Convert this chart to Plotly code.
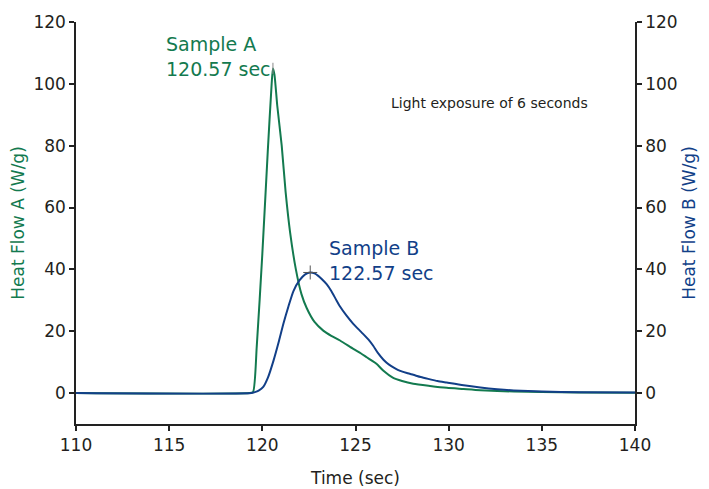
import plotly.graph_objects as go

# Sample A (green, left axis)
time_a = [110, 119.3, 119.5, 119.7, 120.0, 120.29, 120.5, 120.57, 120.65, 120.8, 121.04,
          121.25, 121.49, 121.8, 122.1, 122.38, 122.8, 123.27, 123.7, 124.17, 124.88,
          125.3, 125.6, 125.9, 126.14, 126.5, 127.0, 127.5, 128.1, 129.0, 129.9, 130.8,
          131.7, 133.5, 135.0, 137.0, 140.0]
flow_a = [0, 0, 0.3, 15, 45, 78, 100, 105, 103, 93, 80,
          65, 52, 40, 32, 27.5, 23, 20.2, 18.5, 17, 14.3,
          12.8, 11.6, 10.4, 9.4, 7.2, 5.0, 3.9, 3.0, 2.3, 1.7, 1.3,
          0.9, 0.5, 0.35, 0.2, 0.1]

# Sample B (blue, right axis)
time_b = [110, 119.4, 119.6, 119.8, 120.05, 120.3, 120.6, 120.9, 121.13, 121.4, 121.67,
          122.0, 122.3, 122.57, 122.8, 123.0, 123.2, 123.45, 123.7, 123.95, 124.17,
          124.5, 124.88, 125.3, 125.7, 125.95, 126.2, 126.5, 126.8, 127.1, 127.4, 127.8,
          128.1, 128.5, 128.9, 129.4, 129.9, 130.8, 131.7, 132.6, 133.5, 135.0, 137.0, 140.0]
flow_b = [0, 0, 0.3, 0.8, 2, 5, 10.5, 17, 22.4, 28, 33,
          36.5, 38.4, 39, 38.7, 37.9, 36.8, 35.2, 33.0, 30.3, 28.0,
          25.2, 22.4, 19.8, 17.3, 15.3, 13.0, 10.8, 9.2, 8.1, 7.2, 6.4,
          5.9, 5.2, 4.6, 3.9, 3.4, 2.5, 1.8, 1.25, 0.85, 0.5, 0.3, 0.15]

x_ticks = [110, 115, 120, 125, 130, 135, 140]
y_ticks = [0, 20, 40, 60, 80, 100, 120]

GREEN = "#137a4f"
BLUE = "#123f88"
TXT = "#231f20"
FONT = "DejaVu Sans"

ia = flow_a.index(max(flow_a))
ib = flow_b.index(max(flow_b))

fig = go.Figure()
fig.add_trace(go.Scatter(x=time_a, y=flow_a, mode="lines", line=dict(color=GREEN, width=2, shape="spline", smoothing=0.6),
                         yaxis="y", showlegend=False))
fig.add_trace(go.Scatter(x=time_b, y=flow_b, mode="lines", line=dict(color=BLUE, width=2, shape="spline", smoothing=0.6),
                         yaxis="y2", showlegend=False))
fig.add_trace(go.Scatter(x=[time_a[ia]], y=[flow_a[ia]], mode="markers", yaxis="y",
                         marker=dict(symbol="line-ns", size=8, line=dict(color="#888888", width=1)), showlegend=False))
fig.add_trace(go.Scatter(x=[time_b[ib]], y=[flow_b[ib]], mode="markers", yaxis="y2",
                         marker=dict(symbol="cross-thin", size=10, line=dict(color="#555555", width=1)), showlegend=False))

axis_common = dict(showgrid=False, zeroline=False, showline=True, linecolor="#222222", linewidth=1.5,
                   ticks="outside", ticklen=5, tickcolor="#222222", tickwidth=1.5, automargin=False,
                   tickfont=dict(family=FONT, size=17, color=TXT))

fig.update_layout(
    width=701, height=481,
    margin=dict(l=68, r=74, t=14, b=65, autoexpand=False),
    paper_bgcolor="white", plot_bgcolor="white",
    font=dict(family=FONT, color=TXT),
    xaxis=dict(range=[110, 140], tickvals=x_ticks, title=dict(text="Time (sec)", font=dict(family=FONT, size=17, color=TXT), standoff=18),
               **axis_common),
    yaxis=dict(range=[-10, 120], tickvals=y_ticks, title=dict(text="Heat Flow A (W/g)", font=dict(family=FONT, size=17, color=GREEN), standoff=12),
               **axis_common),
    yaxis2=dict(range=[-10, 120], tickvals=y_ticks, overlaying="y", side="right",
                title=dict(text="Heat Flow B (W/g)", font=dict(family=FONT, size=17, color=BLUE), standoff=6),
                **axis_common),
    annotations=[
        dict(x=114.7, y=108.9, xref="x", yref="y", text="Sample A<br>120.57 sec", showarrow=False,
             xanchor="left", yanchor="middle", align="left", font=dict(family=FONT, size=19, color=GREEN)),
        dict(x=123.45, y=42.9, xref="x", yref="y", text="Sample B<br>122.57 sec", showarrow=False,
             xanchor="left", yanchor="middle", align="left", font=dict(family=FONT, size=19, color=BLUE)),
        dict(x=126.8, y=93.9, xref="x", yref="y", text="Light exposure of 6 seconds", showarrow=False,
             xanchor="left", yanchor="middle", align="left", font=dict(family=FONT, size=14, color=TXT)),
    ],
)

fig.write_html("out.html")
